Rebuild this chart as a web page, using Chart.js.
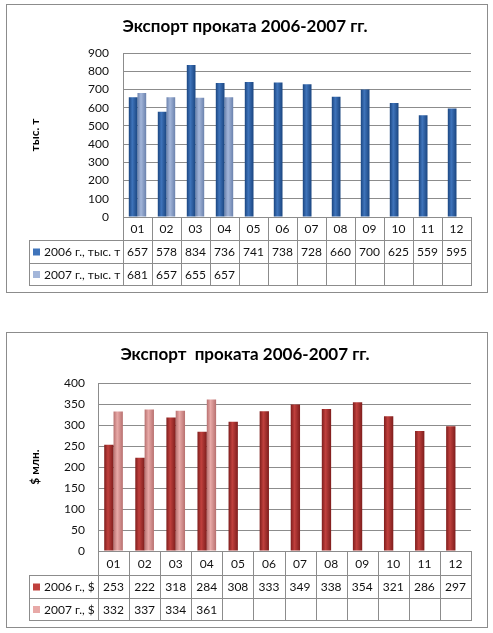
<!DOCTYPE html>
<html>
<head>
<meta charset="utf-8">
<script src="https://cdn.jsdelivr.net/npm/chart.js@4.4.1/dist/chart.umd.min.js"></script>
<style>
  body { margin: 0; background: #fff; width: 493px; height: 633px; position: relative; overflow: hidden; }
  .box { position: absolute; left: 6px; width: 480px; border: 1px solid #8c8c8c; background: #fff; }
  #box1 { top: 4px; height: 287px; }
  #box2 { top: 332px; height: 294px; }
  canvas { display: block; }
</style>
</head>
<body>
<div class="box" id="box1"><canvas id="tonsChart" width="480" height="287"></canvas></div>
<div class="box" id="box2"><canvas id="usdChart" width="480" height="294"></canvas></div>
<script>
const months = ["01", "02", "03", "04", "05", "06", "07", "08", "09", "10", "11", "12"];
const tons2006 = [657, 578, 834, 736, 741, 738, 728, 660, 700, 625, 559, 595];
const tons2007 = [681, 657, 655, 657];
const usd2006 = [253, 222, 318, 284, 308, 333, 349, 338, 354, 321, 286, 297];
const usd2007 = [332, 337, 334, 361];
const tonsNames = ["2006 г., тыс. т", "2007 г., тыс. т"];
const usdNames = ["2006 г., $", "2007 г., $"];

const FONT = "Lato, 'Noto Sans', sans-serif";
const LINE = "#8c8c8c";
const INK = "#111";

// horizontal gradient so the bars look rounded like the Excel ones
function barFill(edge, mid) {
  return function (c) {
    const el = c.element;
    if (!el || !isFinite(el.x) || !el.width) return mid;
    const g = c.chart.ctx.createLinearGradient(el.x - el.width / 2, 0, el.x + el.width / 2, 0);
    g.addColorStop(0, edge);
    g.addColorStop(0.4, mid);
    g.addColorStop(1, edge);
    return g;
  };
}

// title + data table under the plot
const tablePlugin = {
  id: "dataTable",
  afterDraw(chart, args, opts) {
    const ctx = chart.ctx;
    const area = chart.chartArea;
    const x = chart.scales.x;
    const w = (area.right - area.left) / chart.data.labels.length;
    const r0 = area.bottom, r1 = r0 + opts.rows[0], r2 = r1 + opts.rows[1], r3 = r2 + opts.rows[2];
    ctx.save();

    ctx.fillStyle = "#000";
    ctx.font = "bold 17px " + FONT;
    ctx.textAlign = "center";
    ctx.textBaseline = "middle";
    ctx.fillText(opts.title, opts.titleX, opts.titleY);

    ctx.strokeStyle = LINE;
    ctx.lineWidth = 1;
    ctx.beginPath();
    ctx.moveTo(area.left, r0 + 0.5); ctx.lineTo(area.right, r0 + 0.5);
    [r1, r2, r3].forEach(y => { ctx.moveTo(opts.left, y + 0.5); ctx.lineTo(area.right, y + 0.5); });
    ctx.moveTo(opts.left + 0.5, r1); ctx.lineTo(opts.left + 0.5, r3);
    for (let i = 0; i <= chart.data.labels.length; i++) {
      const px = Math.round(area.left + i * w) + 0.5;
      ctx.moveTo(px, r0); ctx.lineTo(px, r3 + 1);
    }
    ctx.stroke();

    ctx.font = "12px " + FONT;
    ctx.fillStyle = INK;
    chart.data.labels.forEach((lab, i) => {
      const cx = x.getPixelForValue(i);
      ctx.fillText(lab, cx, (r0 + r1) / 2 + 1);
    });
    chart.data.datasets.forEach((ds, k) => {
      const top = k === 0 ? r1 : r2;
      const bot = k === 0 ? r2 : r3;
      const cy = (top + bot) / 2 + 1;
      ctx.fillStyle = opts.swatch[k];
      ctx.fillRect(opts.left + 4, cy - 4, 7, 7);
      ctx.fillStyle = INK;
      ctx.textAlign = "left";
      ctx.fillText(ds.label, opts.left + 15, cy);
      ctx.textAlign = "center";
      ds.data.forEach((v, i) => ctx.fillText(String(v), x.getPixelForValue(i), cy));
    });
    ctx.restore();
  }
};

function makeChart(id, cfg) {
  const chart = new Chart(document.getElementById(id), {
    type: "bar",
    data: {
      labels: months,
      datasets: [{
        label: cfg.names[0],
        data: cfg.a,
        backgroundColor: barFill(cfg.colors[0], cfg.colors[1])
      }, {
        label: cfg.names[1],
        data: cfg.b,
        backgroundColor: barFill(cfg.colors[2], cfg.colors[3])
      }]
    },
    options: {
      responsive: false,
      animation: false,
      layout: { padding: { top: cfg.top, bottom: cfg.rows[0] + cfg.rows[1] + cfg.rows[2] + 7, left: 0, right: 16 } },
      datasets: { bar: { categoryPercentage: 0.6, barPercentage: 1 } },
      plugins: {
        legend: { display: false },
        tooltip: { enabled: false },
        dataTable: {
          title: cfg.title, titleX: 238, titleY: 22,
          left: 22, rows: cfg.rows,
          swatch: [cfg.colors[1], cfg.colors[3]]
        }
      },
      scales: {
        x: {
          grid: { display: false },
          border: { display: false },
          ticks: { display: false },
          afterFit(s) { s.height = 0; }
        },
        y: {
          min: 0,
          max: cfg.max,
          ticks: { stepSize: cfg.step, padding: cfg.tickPad, color: INK, font: { family: FONT, size: 12 } },
          grid: { color: LINE, drawTicks: false },
          border: { color: LINE },
          title: { display: true, text: cfg.unit, color: "#000", padding: { top: 21, bottom: 0 }, font: { family: FONT, size: 12, weight: "bold" } },
          afterFit(s) { s.width = cfg.axisW; }
        }
      }
    },
    plugins: [tablePlugin]
  });
  chart.update();
  return chart;
}

makeChart("tonsChart", {
  title: "Экспорт проката 2006-2007 гг.",
  names: tonsNames, a: tons2006, b: tons2007,
  colors: ["#1a4580", "#3f74bb", "#6b82ad", "#a3b6da"],
  max: 900, step: 100, unit: "тыс. т",
  top: 48, rows: [23, 23, 22], axisW: 116, tickPad: 14
});

makeChart("usdChart", {
  title: "Экспорт  проката 2006-2007 гг.",
  names: usdNames, a: usd2006, b: usd2007,
  colors: ["#7e1d1c", "#c0403d", "#b8706f", "#e8a9a7"],
  max: 400, step: 50, unit: "$ млн.",
  top: 50, rows: [24, 23, 22], axisW: 91, tickPad: 13
});
</script>
</body>
</html>
